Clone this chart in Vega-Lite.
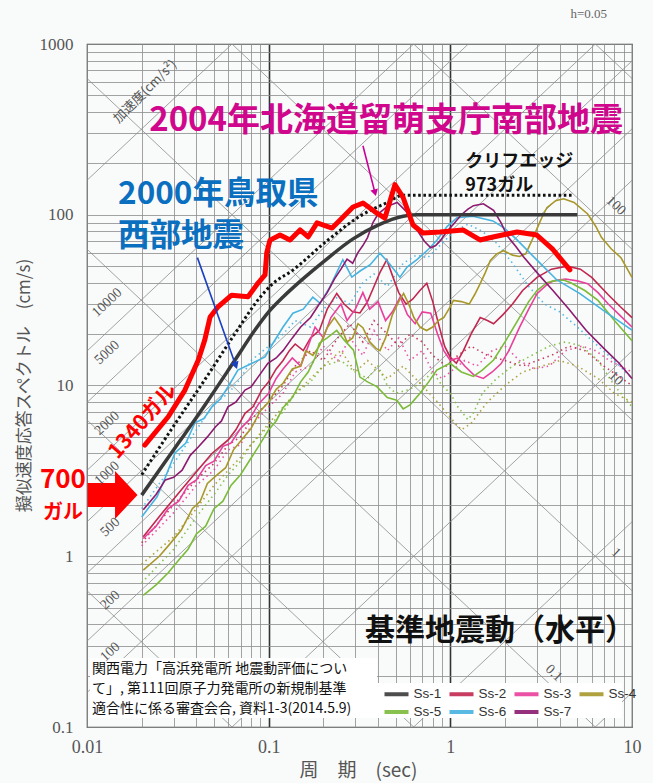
{
"$schema":"https://vega.github.io/schema/vega-lite/v6.json",
"width":545,"height":683,
"autosize":{"type":"none"},
"padding":{"left":87,"top":44,"right":21,"bottom":56},
"background":"#f9fbfb",
"config":{"view":{"stroke":"#444","strokeWidth":1.2},"font":"Noto Sans CJK JP"},
"datasets":{
"diag":[
{"T":0.01,"Sv":0.00015915,"T2":10,"Sv2":0.15915},
{"T":0.01,"Sv":0.0015915,"T2":10,"Sv2":1.5915},
{"T":0.01,"Sv":0.015915,"T2":10,"Sv2":15.915},
{"T":0.01,"Sv":0.15915,"T2":10,"Sv2":159.15},
{"T":0.01,"Sv":0.3183,"T2":10,"Sv2":318.3},
{"T":0.01,"Sv":0.79577,"T2":10,"Sv2":795.77},
{"T":0.01,"Sv":1.5915,"T2":10,"Sv2":1591.5},
{"T":0.01,"Sv":3.1831,"T2":10,"Sv2":3183.1},
{"T":0.01,"Sv":7.9577,"T2":10,"Sv2":7957.7},
{"T":0.01,"Sv":15.915,"T2":10,"Sv2":15915},
{"T":0.01,"Sv":159.15,"T2":10,"Sv2":159155},
{"T":0.01,"Sv":0.62832,"T2":10,"Sv2":0.00062832},
{"T":0.01,"Sv":6.2832,"T2":10,"Sv2":0.0062832},
{"T":0.01,"Sv":62.832,"T2":10,"Sv2":0.062832},
{"T":0.01,"Sv":628.32,"T2":10,"Sv2":0.62832},
{"T":0.01,"Sv":6283.2,"T2":10,"Sv2":6.2832},
{"T":0.01,"Sv":62832,"T2":10,"Sv2":62.832},
{"T":0.01,"Sv":628320,"T2":10,"Sv2":628.32}
],
"ss1":[
{"wave":"Ss-1","T":0.02,"Sv":2.28},{"wave":"Ss-1","T":0.03,"Sv":4.2},{"wave":"Ss-1","T":0.045,"Sv":7.8},{"wave":"Ss-1","T":0.065,"Sv":14},{"wave":"Ss-1","T":0.085,"Sv":21.5},{"wave":"Ss-1","T":0.1,"Sv":27},{"wave":"Ss-1","T":0.12,"Sv":33},{"wave":"Ss-1","T":0.15,"Sv":41},{"wave":"Ss-1","T":0.2,"Sv":53},{"wave":"Ss-1","T":0.29,"Sv":72},{"wave":"Ss-1","T":0.4,"Sv":87},{"wave":"Ss-1","T":0.55,"Sv":98},{"wave":"Ss-1","T":0.65,"Sv":100},{"wave":"Ss-1","T":5.0,"Sv":100}
],
"cliff":[
{"T":0.02,"Sv":3.0},{"T":0.03,"Sv":5.8},{"T":0.045,"Sv":11},{"T":0.065,"Sv":20},{"T":0.09,"Sv":33},{"T":0.104,"Sv":39},{"T":0.136,"Sv":47.4},{"T":0.21,"Sv":70.5},{"T":0.32,"Sv":98.5},{"T":0.45,"Sv":118},{"T":0.55,"Sv":130},{"T":4.8,"Sv":130}
],
"rumoi":[
{"T":0.0208,"Sv":4.48},{"T":0.028,"Sv":6.56},{"T":0.0346,"Sv":9.4},{"T":0.041,"Sv":14.1},{"T":0.0445,"Sv":18.5},{"T":0.0476,"Sv":25.2},{"T":0.0528,"Sv":29},{"T":0.0625,"Sv":33.8},{"T":0.077,"Sv":33.1},{"T":0.0874,"Sv":39.8},{"T":0.0955,"Sv":44.4},{"T":0.0976,"Sv":60},{"T":0.1017,"Sv":71},{"T":0.1155,"Sv":76.1},{"T":0.1311,"Sv":71.2},{"T":0.1488,"Sv":81.5},{"T":0.1649,"Sv":74.1},{"T":0.1846,"Sv":89.6},{"T":0.2234,"Sv":83.6},{"T":0.2473,"Sv":93.1},{"T":0.2913,"Sv":111},{"T":0.3306,"Sv":117},{"T":0.3846,"Sv":104},{"T":0.4364,"Sv":95.7},{"T":0.4954,"Sv":150},{"T":0.5484,"Sv":127},{"T":0.6232,"Sv":87.1},{"T":0.7069,"Sv":78.2},{"T":0.8776,"Sv":79.3},{"T":1.174,"Sv":81.5},{"T":1.457,"Sv":71.2},{"T":1.718,"Sv":74.1},{"T":2.33,"Sv":79.3},{"T":2.99,"Sv":76.1},{"T":3.67,"Sv":62.6},{"T":4.55,"Sv":47.6}
],
"solid":[
{"wave":"Ss-2","T":0.0204,"Sv":1.3},{"wave":"Ss-2","T":0.0258,"Sv":1.78},{"wave":"Ss-2","T":0.0318,"Sv":2.33},{"wave":"Ss-2","T":0.0394,"Sv":3.06},{"wave":"Ss-2","T":0.0487,"Sv":4.0},{"wave":"Ss-2","T":0.0598,"Sv":4.8},{"wave":"Ss-2","T":0.066,"Sv":5.5},{"wave":"Ss-2","T":0.0741,"Sv":6.87},{"wave":"Ss-2","T":0.082,"Sv":7.5},{"wave":"Ss-2","T":0.0916,"Sv":9.4},{"wave":"Ss-2","T":0.1,"Sv":10.5},{"wave":"Ss-2","T":0.11,"Sv":12.5},{"wave":"Ss-2","T":0.12,"Sv":14},{"wave":"Ss-2","T":0.13,"Sv":16},{"wave":"Ss-2","T":0.14,"Sv":17.5},{"wave":"Ss-2","T":0.155,"Sv":16},{"wave":"Ss-2","T":0.17,"Sv":19},{"wave":"Ss-2","T":0.19,"Sv":21},{"wave":"Ss-2","T":0.21,"Sv":28},{"wave":"Ss-2","T":0.237,"Sv":34.6},{"wave":"Ss-2","T":0.26,"Sv":30},{"wave":"Ss-2","T":0.29,"Sv":27},{"wave":"Ss-2","T":0.318,"Sv":26.6},{"wave":"Ss-2","T":0.35,"Sv":31},{"wave":"Ss-2","T":0.38,"Sv":38},{"wave":"Ss-2","T":0.41,"Sv":46},{"wave":"Ss-2","T":0.447,"Sv":54.5},{"wave":"Ss-2","T":0.48,"Sv":44},{"wave":"Ss-2","T":0.52,"Sv":35},{"wave":"Ss-2","T":0.57,"Sv":30},{"wave":"Ss-2","T":0.62,"Sv":32},{"wave":"Ss-2","T":0.68,"Sv":36},{"wave":"Ss-2","T":0.742,"Sv":39.7},{"wave":"Ss-2","T":0.8,"Sv":31},{"wave":"Ss-2","T":0.87,"Sv":22},{"wave":"Ss-2","T":0.93,"Sv":17},{"wave":"Ss-2","T":1.0,"Sv":14.6},{"wave":"Ss-2","T":1.08,"Sv":13.5},{"wave":"Ss-2","T":1.18,"Sv":16},{"wave":"Ss-2","T":1.3,"Sv":20},{"wave":"Ss-2","T":1.46,"Sv":25},{"wave":"Ss-2","T":1.6,"Sv":24},{"wave":"Ss-2","T":1.73,"Sv":23},{"wave":"Ss-2","T":1.95,"Sv":26},{"wave":"Ss-2","T":2.2,"Sv":30},{"wave":"Ss-2","T":2.5,"Sv":36},{"wave":"Ss-2","T":3.0,"Sv":43},{"wave":"Ss-2","T":3.6,"Sv":48},{"wave":"Ss-2","T":4.4,"Sv":50},{"wave":"Ss-2","T":5.2,"Sv":48},{"wave":"Ss-2","T":6.0,"Sv":43},{"wave":"Ss-2","T":7.4,"Sv":34},{"wave":"Ss-2","T":8.6,"Sv":29},{"wave":"Ss-2","T":10,"Sv":25},
{"wave":"Ss-3","T":0.0204,"Sv":1.27},{"wave":"Ss-3","T":0.024,"Sv":1.5},{"wave":"Ss-3","T":0.028,"Sv":1.9},{"wave":"Ss-3","T":0.032,"Sv":2.1},{"wave":"Ss-3","T":0.036,"Sv":2.6},{"wave":"Ss-3","T":0.04,"Sv":2.8},{"wave":"Ss-3","T":0.045,"Sv":3.4},{"wave":"Ss-3","T":0.05,"Sv":3.6},{"wave":"Ss-3","T":0.056,"Sv":4.4},{"wave":"Ss-3","T":0.062,"Sv":4.6},{"wave":"Ss-3","T":0.07,"Sv":5.6},{"wave":"Ss-3","T":0.078,"Sv":6.3},{"wave":"Ss-3","T":0.088,"Sv":7.8},{"wave":"Ss-3","T":0.1,"Sv":9},{"wave":"Ss-3","T":0.11,"Sv":11},{"wave":"Ss-3","T":0.12,"Sv":12.5},{"wave":"Ss-3","T":0.135,"Sv":14.5},{"wave":"Ss-3","T":0.15,"Sv":13},{"wave":"Ss-3","T":0.165,"Sv":17},{"wave":"Ss-3","T":0.18,"Sv":22},{"wave":"Ss-3","T":0.2,"Sv":19},{"wave":"Ss-3","T":0.22,"Sv":25},{"wave":"Ss-3","T":0.25,"Sv":30},{"wave":"Ss-3","T":0.27,"Sv":24},{"wave":"Ss-3","T":0.3,"Sv":28},{"wave":"Ss-3","T":0.33,"Sv":35},{"wave":"Ss-3","T":0.36,"Sv":28},{"wave":"Ss-3","T":0.4,"Sv":31},{"wave":"Ss-3","T":0.44,"Sv":24},{"wave":"Ss-3","T":0.48,"Sv":27},{"wave":"Ss-3","T":0.53,"Sv":33},{"wave":"Ss-3","T":0.58,"Sv":26},{"wave":"Ss-3","T":0.64,"Sv":23},{"wave":"Ss-3","T":0.7,"Sv":27},{"wave":"Ss-3","T":0.78,"Sv":26.5},{"wave":"Ss-3","T":0.85,"Sv":20},{"wave":"Ss-3","T":0.92,"Sv":16},{"wave":"Ss-3","T":1.0,"Sv":14},{"wave":"Ss-3","T":1.1,"Sv":14.5},{"wave":"Ss-3","T":1.2,"Sv":13},{"wave":"Ss-3","T":1.35,"Sv":11.5},{"wave":"Ss-3","T":1.52,"Sv":11},{"wave":"Ss-3","T":1.7,"Sv":12},{"wave":"Ss-3","T":1.9,"Sv":13.4},{"wave":"Ss-3","T":2.1,"Sv":16},{"wave":"Ss-3","T":2.4,"Sv":21.8},{"wave":"Ss-3","T":2.7,"Sv":28},{"wave":"Ss-3","T":3.0,"Sv":34.5},{"wave":"Ss-3","T":3.4,"Sv":39},{"wave":"Ss-3","T":3.7,"Sv":41},{"wave":"Ss-3","T":4.3,"Sv":42},{"wave":"Ss-3","T":5.0,"Sv":41},{"wave":"Ss-3","T":5.7,"Sv":39.5},{"wave":"Ss-3","T":6.5,"Sv":35},{"wave":"Ss-3","T":7.4,"Sv":30},{"wave":"Ss-3","T":8.5,"Sv":26},{"wave":"Ss-3","T":10,"Sv":22},
{"wave":"Ss-4","T":0.0204,"Sv":0.83},{"wave":"Ss-4","T":0.025,"Sv":1.0},{"wave":"Ss-4","T":0.028,"Sv":1.15},{"wave":"Ss-4","T":0.033,"Sv":1.42},{"wave":"Ss-4","T":0.038,"Sv":1.9},{"wave":"Ss-4","T":0.042,"Sv":2.1},{"wave":"Ss-4","T":0.046,"Sv":2.67},{"wave":"Ss-4","T":0.052,"Sv":3.0},{"wave":"Ss-4","T":0.058,"Sv":3.3},{"wave":"Ss-4","T":0.064,"Sv":4.2},{"wave":"Ss-4","T":0.072,"Sv":4.9},{"wave":"Ss-4","T":0.08,"Sv":5.6},{"wave":"Ss-4","T":0.09,"Sv":7.1},{"wave":"Ss-4","T":0.1,"Sv":8},{"wave":"Ss-4","T":0.11,"Sv":9.5},{"wave":"Ss-4","T":0.12,"Sv":10.3},{"wave":"Ss-4","T":0.135,"Sv":12.5},{"wave":"Ss-4","T":0.15,"Sv":13},{"wave":"Ss-4","T":0.16,"Sv":16},{"wave":"Ss-4","T":0.175,"Sv":15},{"wave":"Ss-4","T":0.19,"Sv":17},{"wave":"Ss-4","T":0.21,"Sv":21.8},{"wave":"Ss-4","T":0.23,"Sv":25},{"wave":"Ss-4","T":0.25,"Sv":22},{"wave":"Ss-4","T":0.27,"Sv":18},{"wave":"Ss-4","T":0.29,"Sv":19},{"wave":"Ss-4","T":0.31,"Sv":23},{"wave":"Ss-4","T":0.33,"Sv":21.8},{"wave":"Ss-4","T":0.36,"Sv":18},{"wave":"Ss-4","T":0.39,"Sv":16.5},{"wave":"Ss-4","T":0.41,"Sv":16},{"wave":"Ss-4","T":0.44,"Sv":19},{"wave":"Ss-4","T":0.48,"Sv":26},{"wave":"Ss-4","T":0.52,"Sv":31},{"wave":"Ss-4","T":0.553,"Sv":34.6},{"wave":"Ss-4","T":0.59,"Sv":30},{"wave":"Ss-4","T":0.63,"Sv":25},{"wave":"Ss-4","T":0.68,"Sv":22},{"wave":"Ss-4","T":0.74,"Sv":21},{"wave":"Ss-4","T":0.8,"Sv":22},{"wave":"Ss-4","T":0.86,"Sv":24},{"wave":"Ss-4","T":0.92,"Sv":25},{"wave":"Ss-4","T":1.0,"Sv":29},{"wave":"Ss-4","T":1.04,"Sv":31.5},{"wave":"Ss-4","T":1.15,"Sv":31},{"wave":"Ss-4","T":1.27,"Sv":30},{"wave":"Ss-4","T":1.36,"Sv":34},{"wave":"Ss-4","T":1.46,"Sv":39.5},{"wave":"Ss-4","T":1.56,"Sv":46},{"wave":"Ss-4","T":1.66,"Sv":54},{"wave":"Ss-4","T":1.8,"Sv":59},{"wave":"Ss-4","T":1.96,"Sv":61.6},{"wave":"Ss-4","T":2.2,"Sv":58},{"wave":"Ss-4","T":2.4,"Sv":57},{"wave":"Ss-4","T":2.6,"Sv":59},{"wave":"Ss-4","T":2.8,"Sv":70},{"wave":"Ss-4","T":3.0,"Sv":83},{"wave":"Ss-4","T":3.2,"Sv":97},{"wave":"Ss-4","T":3.4,"Sv":110},{"wave":"Ss-4","T":3.8,"Sv":121},{"wave":"Ss-4","T":4.2,"Sv":124},{"wave":"Ss-4","T":4.8,"Sv":118},{"wave":"Ss-4","T":5.7,"Sv":101},{"wave":"Ss-4","T":6.3,"Sv":86},{"wave":"Ss-4","T":6.8,"Sv":73.5},{"wave":"Ss-4","T":7.7,"Sv":63},{"wave":"Ss-4","T":8.7,"Sv":56},{"wave":"Ss-4","T":10,"Sv":43},
{"wave":"Ss-5","T":0.0204,"Sv":0.59},{"wave":"Ss-5","T":0.024,"Sv":0.68},{"wave":"Ss-5","T":0.028,"Sv":0.8},{"wave":"Ss-5","T":0.032,"Sv":0.95},{"wave":"Ss-5","T":0.036,"Sv":1.1},{"wave":"Ss-5","T":0.04,"Sv":1.35},{"wave":"Ss-5","T":0.045,"Sv":1.5},{"wave":"Ss-5","T":0.05,"Sv":1.9},{"wave":"Ss-5","T":0.056,"Sv":2.1},{"wave":"Ss-5","T":0.062,"Sv":2.6},{"wave":"Ss-5","T":0.07,"Sv":3.0},{"wave":"Ss-5","T":0.078,"Sv":3.6},{"wave":"Ss-5","T":0.088,"Sv":4.4},{"wave":"Ss-5","T":0.1,"Sv":5.5},{"wave":"Ss-5","T":0.11,"Sv":6.2},{"wave":"Ss-5","T":0.12,"Sv":7.4},{"wave":"Ss-5","T":0.135,"Sv":8.5},{"wave":"Ss-5","T":0.15,"Sv":10.5},{"wave":"Ss-5","T":0.165,"Sv":12},{"wave":"Ss-5","T":0.18,"Sv":14.5},{"wave":"Ss-5","T":0.19,"Sv":17.7},{"wave":"Ss-5","T":0.21,"Sv":19},{"wave":"Ss-5","T":0.237,"Sv":21},{"wave":"Ss-5","T":0.26,"Sv":18.5},{"wave":"Ss-5","T":0.293,"Sv":16.1},{"wave":"Ss-5","T":0.318,"Sv":11.2},{"wave":"Ss-5","T":0.35,"Sv":10.5},{"wave":"Ss-5","T":0.394,"Sv":9.85},{"wave":"Ss-5","T":0.45,"Sv":8.5},{"wave":"Ss-5","T":0.507,"Sv":8.2},{"wave":"Ss-5","T":0.55,"Sv":7.3},{"wave":"Ss-5","T":0.6,"Sv":7.7},{"wave":"Ss-5","T":0.681,"Sv":9},{"wave":"Ss-5","T":0.76,"Sv":10.5},{"wave":"Ss-5","T":0.842,"Sv":12.3},{"wave":"Ss-5","T":0.996,"Sv":13.5},{"wave":"Ss-5","T":1.15,"Sv":12},{"wave":"Ss-5","T":1.34,"Sv":11.3},{"wave":"Ss-5","T":1.5,"Sv":12.3},{"wave":"Ss-5","T":1.73,"Sv":14.1},{"wave":"Ss-5","T":2.0,"Sv":18},{"wave":"Ss-5","T":2.4,"Sv":25},{"wave":"Ss-5","T":2.7,"Sv":31},{"wave":"Ss-5","T":3.0,"Sv":36},{"wave":"Ss-5","T":3.4,"Sv":40},{"wave":"Ss-5","T":3.7,"Sv":41},{"wave":"Ss-5","T":4.2,"Sv":41.5},{"wave":"Ss-5","T":4.6,"Sv":40},{"wave":"Ss-5","T":5.5,"Sv":36},{"wave":"Ss-5","T":6.5,"Sv":31.5},{"wave":"Ss-5","T":8.0,"Sv":24},{"wave":"Ss-5","T":10,"Sv":18.3},
{"wave":"Ss-6","T":0.02,"Sv":1.7},{"wave":"Ss-6","T":0.0243,"Sv":2.23},{"wave":"Ss-6","T":0.027,"Sv":2.9},{"wave":"Ss-6","T":0.0305,"Sv":4.03},{"wave":"Ss-6","T":0.035,"Sv":4.6},{"wave":"Ss-6","T":0.0393,"Sv":6.05},{"wave":"Ss-6","T":0.044,"Sv":6.4},{"wave":"Ss-6","T":0.0487,"Sv":7.5},{"wave":"Ss-6","T":0.054,"Sv":8.3},{"wave":"Ss-6","T":0.0597,"Sv":9.8},{"wave":"Ss-6","T":0.0677,"Sv":12.3},{"wave":"Ss-6","T":0.081,"Sv":13.5},{"wave":"Ss-6","T":0.0955,"Sv":14.7},{"wave":"Ss-6","T":0.105,"Sv":17.5},{"wave":"Ss-6","T":0.12,"Sv":22},{"wave":"Ss-6","T":0.136,"Sv":26.5},{"wave":"Ss-6","T":0.155,"Sv":28},{"wave":"Ss-6","T":0.175,"Sv":32.9},{"wave":"Ss-6","T":0.192,"Sv":30.3},{"wave":"Ss-6","T":0.217,"Sv":37.7},{"wave":"Ss-6","T":0.235,"Sv":45},{"wave":"Ss-6","T":0.256,"Sv":54.5},{"wave":"Ss-6","T":0.287,"Sv":43.1},{"wave":"Ss-6","T":0.32,"Sv":47},{"wave":"Ss-6","T":0.361,"Sv":50.8},{"wave":"Ss-6","T":0.41,"Sv":59.5},{"wave":"Ss-6","T":0.46,"Sv":52},{"wave":"Ss-6","T":0.528,"Sv":43.1},{"wave":"Ss-6","T":0.578,"Sv":49.4},{"wave":"Ss-6","T":0.66,"Sv":55},{"wave":"Ss-6","T":0.755,"Sv":62.6},{"wave":"Ss-6","T":0.845,"Sv":71.2},{"wave":"Ss-6","T":0.959,"Sv":85.2},{"wave":"Ss-6","T":1.088,"Sv":96},{"wave":"Ss-6","T":1.333,"Sv":98},{"wave":"Ss-6","T":1.716,"Sv":92},{"wave":"Ss-6","T":2.0,"Sv":83},{"wave":"Ss-6","T":2.33,"Sv":71.2},{"wave":"Ss-6","T":2.99,"Sv":54.4},{"wave":"Ss-6","T":3.86,"Sv":41.5},{"wave":"Ss-6","T":5.17,"Sv":34.5},{"wave":"Ss-6","T":7.27,"Sv":26.6},{"wave":"Ss-6","T":10,"Sv":21.1},
{"wave":"Ss-7","T":0.0204,"Sv":1.87},{"wave":"Ss-7","T":0.024,"Sv":2.3},{"wave":"Ss-7","T":0.027,"Sv":2.8},{"wave":"Ss-7","T":0.03,"Sv":2.9},{"wave":"Ss-7","T":0.0334,"Sv":3.19},{"wave":"Ss-7","T":0.037,"Sv":3.9},{"wave":"Ss-7","T":0.0411,"Sv":4.38},{"wave":"Ss-7","T":0.046,"Sv":5.0},{"wave":"Ss-7","T":0.051,"Sv":5.74},{"wave":"Ss-7","T":0.055,"Sv":6.2},{"wave":"Ss-7","T":0.0597,"Sv":7.5},{"wave":"Ss-7","T":0.066,"Sv":8},{"wave":"Ss-7","T":0.0741,"Sv":9.4},{"wave":"Ss-7","T":0.08,"Sv":9.8},{"wave":"Ss-7","T":0.0874,"Sv":11.2},{"wave":"Ss-7","T":0.099,"Sv":13.5},{"wave":"Ss-7","T":0.11,"Sv":14.5},{"wave":"Ss-7","T":0.12,"Sv":16},{"wave":"Ss-7","T":0.135,"Sv":19},{"wave":"Ss-7","T":0.15,"Sv":22},{"wave":"Ss-7","T":0.17,"Sv":25},{"wave":"Ss-7","T":0.19,"Sv":30},{"wave":"Ss-7","T":0.21,"Sv":35},{"wave":"Ss-7","T":0.23,"Sv":42},{"wave":"Ss-7","T":0.25,"Sv":48},{"wave":"Ss-7","T":0.27,"Sv":55},{"wave":"Ss-7","T":0.29,"Sv":52},{"wave":"Ss-7","T":0.31,"Sv":60},{"wave":"Ss-7","T":0.33,"Sv":66},{"wave":"Ss-7","T":0.35,"Sv":73.5},{"wave":"Ss-7","T":0.375,"Sv":90},{"wave":"Ss-7","T":0.4,"Sv":101},{"wave":"Ss-7","T":0.45,"Sv":112},{"wave":"Ss-7","T":0.51,"Sv":118},{"wave":"Ss-7","T":0.57,"Sv":105},{"wave":"Ss-7","T":0.62,"Sv":92},{"wave":"Ss-7","T":0.66,"Sv":80.6},{"wave":"Ss-7","T":0.72,"Sv":70},{"wave":"Ss-7","T":0.78,"Sv":64},{"wave":"Ss-7","T":0.83,"Sv":66},{"wave":"Ss-7","T":0.88,"Sv":70.5},{"wave":"Ss-7","T":0.96,"Sv":80},{"wave":"Ss-7","T":1.04,"Sv":88},{"wave":"Ss-7","T":1.15,"Sv":100},{"wave":"Ss-7","T":1.25,"Sv":108},{"wave":"Ss-7","T":1.34,"Sv":113},{"wave":"Ss-7","T":1.52,"Sv":116},{"wave":"Ss-7","T":1.73,"Sv":106},{"wave":"Ss-7","T":1.9,"Sv":90},{"wave":"Ss-7","T":2.06,"Sv":75},{"wave":"Ss-7","T":2.3,"Sv":65},{"wave":"Ss-7","T":2.52,"Sv":57},{"wave":"Ss-7","T":3.1,"Sv":44},{"wave":"Ss-7","T":3.67,"Sv":36},{"wave":"Ss-7","T":4.5,"Sv":28},{"wave":"Ss-7","T":5.6,"Sv":21},{"wave":"Ss-7","T":7.0,"Sv":16.5},{"wave":"Ss-7","T":8.5,"Sv":13.5},{"wave":"Ss-7","T":10,"Sv":11}
],
"dots":[
{"wave":"Ss-6","T":0.02,"Sv":1.9},{"wave":"Ss-6","T":0.03,"Sv":3.5},{"wave":"Ss-6","T":0.04,"Sv":5.5},{"wave":"Ss-6","T":0.05,"Sv":7.8},{"wave":"Ss-6","T":0.06,"Sv":9},{"wave":"Ss-6","T":0.07,"Sv":11},{"wave":"Ss-6","T":0.08,"Sv":14},{"wave":"Ss-6","T":0.1,"Sv":17},{"wave":"Ss-6","T":0.12,"Sv":20},{"wave":"Ss-6","T":0.14,"Sv":24},{"wave":"Ss-6","T":0.17,"Sv":22},{"wave":"Ss-6","T":0.2,"Sv":28},{"wave":"Ss-6","T":0.24,"Sv":33},{"wave":"Ss-6","T":0.28,"Sv":30},{"wave":"Ss-6","T":0.33,"Sv":40},{"wave":"Ss-6","T":0.38,"Sv":45},{"wave":"Ss-6","T":0.45,"Sv":38},{"wave":"Ss-6","T":0.55,"Sv":52},{"wave":"Ss-6","T":0.65,"Sv":58},{"wave":"Ss-6","T":0.75,"Sv":56},{"wave":"Ss-6","T":0.9,"Sv":68},{"wave":"Ss-6","T":1.05,"Sv":80},{"wave":"Ss-6","T":1.25,"Sv":88},{"wave":"Ss-6","T":1.5,"Sv":80},{"wave":"Ss-6","T":1.8,"Sv":68},{"wave":"Ss-6","T":2.2,"Sv":52},{"wave":"Ss-6","T":2.7,"Sv":38},{"wave":"Ss-6","T":3.3,"Sv":30},{"wave":"Ss-6","T":4,"Sv":27},{"wave":"Ss-6","T":5,"Sv":22},{"wave":"Ss-6","T":6.5,"Sv":17},{"wave":"Ss-6","T":8,"Sv":14},{"wave":"Ss-6","T":10,"Sv":11},
{"wave":"Ss-3","T":0.02,"Sv":1.15},{"wave":"Ss-3","T":0.03,"Sv":1.8},{"wave":"Ss-3","T":0.04,"Sv":2.6},{"wave":"Ss-3","T":0.05,"Sv":3.2},{"wave":"Ss-3","T":0.06,"Sv":4.2},{"wave":"Ss-3","T":0.07,"Sv":4.5},{"wave":"Ss-3","T":0.08,"Sv":5.8},{"wave":"Ss-3","T":0.1,"Sv":7.5},{"wave":"Ss-3","T":0.12,"Sv":9},{"wave":"Ss-3","T":0.14,"Sv":12},{"wave":"Ss-3","T":0.17,"Sv":13},{"wave":"Ss-3","T":0.2,"Sv":17},{"wave":"Ss-3","T":0.24,"Sv":14},{"wave":"Ss-3","T":0.28,"Sv":19},{"wave":"Ss-3","T":0.33,"Sv":15},{"wave":"Ss-3","T":0.38,"Sv":21},{"wave":"Ss-3","T":0.45,"Sv":16},{"wave":"Ss-3","T":0.52,"Sv":19},{"wave":"Ss-3","T":0.6,"Sv":14},{"wave":"Ss-3","T":0.7,"Sv":16},{"wave":"Ss-3","T":0.8,"Sv":12},{"wave":"Ss-3","T":0.9,"Sv":11},{"wave":"Ss-3","T":1.0,"Sv":12},{"wave":"Ss-3","T":1.2,"Sv":14},{"wave":"Ss-3","T":1.4,"Sv":13},{"wave":"Ss-3","T":1.7,"Sv":16},{"wave":"Ss-3","T":2.0,"Sv":17},{"wave":"Ss-3","T":2.4,"Sv":14},{"wave":"Ss-3","T":2.9,"Sv":12.5},{"wave":"Ss-3","T":3.5,"Sv":13},{"wave":"Ss-3","T":4.3,"Sv":16},{"wave":"Ss-3","T":5.3,"Sv":17},{"wave":"Ss-3","T":6.3,"Sv":16},{"wave":"Ss-3","T":7.5,"Sv":14},{"wave":"Ss-3","T":10,"Sv":12},
{"wave":"Ss-5","T":0.02,"Sv":0.7},{"wave":"Ss-5","T":0.03,"Sv":1.1},{"wave":"Ss-5","T":0.04,"Sv":1.7},{"wave":"Ss-5","T":0.05,"Sv":2.3},{"wave":"Ss-5","T":0.06,"Sv":3.0},{"wave":"Ss-5","T":0.07,"Sv":3.6},{"wave":"Ss-5","T":0.08,"Sv":4.5},{"wave":"Ss-5","T":0.1,"Sv":5.8},{"wave":"Ss-5","T":0.12,"Sv":7},{"wave":"Ss-5","T":0.14,"Sv":9},{"wave":"Ss-5","T":0.17,"Sv":10.5},{"wave":"Ss-5","T":0.2,"Sv":13},{"wave":"Ss-5","T":0.25,"Sv":14},{"wave":"Ss-5","T":0.3,"Sv":12},{"wave":"Ss-5","T":0.35,"Sv":11},{"wave":"Ss-5","T":0.4,"Sv":13},{"wave":"Ss-5","T":0.45,"Sv":10},{"wave":"Ss-5","T":0.5,"Sv":9},{"wave":"Ss-5","T":0.6,"Sv":9.5},{"wave":"Ss-5","T":0.7,"Sv":10.5},{"wave":"Ss-5","T":0.8,"Sv":12},{"wave":"Ss-5","T":0.9,"Sv":10},{"wave":"Ss-5","T":1.0,"Sv":9},{"wave":"Ss-5","T":1.1,"Sv":7.5},{"wave":"Ss-5","T":1.25,"Sv":6.3},{"wave":"Ss-5","T":1.35,"Sv":7},{"wave":"Ss-5","T":1.5,"Sv":9},{"wave":"Ss-5","T":1.8,"Sv":11},{"wave":"Ss-5","T":2.2,"Sv":13},{"wave":"Ss-5","T":2.8,"Sv":15},{"wave":"Ss-5","T":3.5,"Sv":17},{"wave":"Ss-5","T":4.3,"Sv":18},{"wave":"Ss-5","T":5.3,"Sv":17},{"wave":"Ss-5","T":6.5,"Sv":14},{"wave":"Ss-5","T":8,"Sv":10},{"wave":"Ss-5","T":10,"Sv":7.5},
{"wave":"Ss-2","T":0.02,"Sv":1.2},{"wave":"Ss-2","T":0.03,"Sv":2},{"wave":"Ss-2","T":0.04,"Sv":2.8},{"wave":"Ss-2","T":0.05,"Sv":3.5},{"wave":"Ss-2","T":0.06,"Sv":4.5},{"wave":"Ss-2","T":0.07,"Sv":5},{"wave":"Ss-2","T":0.08,"Sv":6.3},{"wave":"Ss-2","T":0.1,"Sv":8},{"wave":"Ss-2","T":0.12,"Sv":10},{"wave":"Ss-2","T":0.14,"Sv":13},{"wave":"Ss-2","T":0.17,"Sv":16},{"wave":"Ss-2","T":0.2,"Sv":14},{"wave":"Ss-2","T":0.24,"Sv":19},{"wave":"Ss-2","T":0.28,"Sv":23},{"wave":"Ss-2","T":0.33,"Sv":18},{"wave":"Ss-2","T":0.38,"Sv":24},{"wave":"Ss-2","T":0.45,"Sv":20},{"wave":"Ss-2","T":0.52,"Sv":17},{"wave":"Ss-2","T":0.6,"Sv":20},{"wave":"Ss-2","T":0.7,"Sv":18},{"wave":"Ss-2","T":0.8,"Sv":15},{"wave":"Ss-2","T":0.95,"Sv":13},{"wave":"Ss-2","T":1.1,"Sv":15},{"wave":"Ss-2","T":1.3,"Sv":17},{"wave":"Ss-2","T":1.6,"Sv":15},{"wave":"Ss-2","T":2.0,"Sv":14},{"wave":"Ss-2","T":2.5,"Sv":13},{"wave":"Ss-2","T":3.0,"Sv":14},{"wave":"Ss-2","T":3.6,"Sv":15},{"wave":"Ss-2","T":4.5,"Sv":17},{"wave":"Ss-2","T":5.5,"Sv":16},{"wave":"Ss-2","T":7,"Sv":13},{"wave":"Ss-2","T":10,"Sv":10},
{"wave":"Ss-4","T":0.02,"Sv":0.9},{"wave":"Ss-4","T":0.03,"Sv":1.3},{"wave":"Ss-4","T":0.04,"Sv":1.9},{"wave":"Ss-4","T":0.05,"Sv":2.6},{"wave":"Ss-4","T":0.07,"Sv":3.8},{"wave":"Ss-4","T":0.1,"Sv":6},{"wave":"Ss-4","T":0.14,"Sv":9},{"wave":"Ss-4","T":0.2,"Sv":13},{"wave":"Ss-4","T":0.25,"Sv":16},{"wave":"Ss-4","T":0.3,"Sv":12},{"wave":"Ss-4","T":0.35,"Sv":14},{"wave":"Ss-4","T":0.45,"Sv":11},{"wave":"Ss-4","T":0.55,"Sv":13},{"wave":"Ss-4","T":0.7,"Sv":10},{"wave":"Ss-4","T":0.85,"Sv":8},{"wave":"Ss-4","T":1.0,"Sv":6.5},{"wave":"Ss-4","T":1.15,"Sv":5.5},{"wave":"Ss-4","T":1.3,"Sv":6},{"wave":"Ss-4","T":1.6,"Sv":8},{"wave":"Ss-4","T":2.0,"Sv":10},{"wave":"Ss-4","T":2.5,"Sv":12},{"wave":"Ss-4","T":3.2,"Sv":13},{"wave":"Ss-4","T":4,"Sv":14},{"wave":"Ss-4","T":5,"Sv":13},{"wave":"Ss-4","T":6.5,"Sv":11},{"wave":"Ss-4","T":8,"Sv":9},{"wave":"Ss-4","T":10,"Sv":8}
]
},
"encoding":{
 "x":{"field":"T","type":"quantitative","scale":{"type":"log","domain":[0.01,10],"nice":false},
  "axis":{"values":[0.01,0.02,0.03,0.04,0.05,0.06,0.07,0.08,0.09,0.1,0.2,0.3,0.4,0.5,0.6,0.7,0.8,0.9,1,2,3,4,5,6,7,8,9,10],
   "grid":true,"gridColor":{"condition":{"test":"datum.value===0.1||datum.value===1","value":"#333333"},"value":"#8c8c8c"},
   "gridWidth":{"condition":{"test":"datum.value===0.1||datum.value===1","value":1.6},"value":0.8},
   "ticks":false,"domain":false,"labelOverlap":false,"labelFlush":false,"labelBound":false,
   "labelExpr":"datum.value===0.01?'0.01':datum.value===0.1?'0.1':datum.value===1?'1':datum.value===10?'10':''",
   "labelFont":"Liberation Serif","labelFontSize":18,"labelColor":"#555","labelPadding":11,
   "title":"周　期　(sec)","titleFont":"Noto Sans CJK JP","titleFontSize":19,"titleFontWeight":"normal","titleColor":"#555",
   "titleX":271,"titleY":43,"titleBaseline":"middle","titleAlign":"center"}},
 "y":{"field":"Sv","type":"quantitative","scale":{"type":"log","domain":[0.1,1000],"nice":false},
  "axis":{"values":[0.1,0.2,0.3,0.4,0.5,0.6,0.7,0.8,0.9,1,2,3,4,5,6,7,8,9,10,20,30,40,50,60,70,80,90,100,200,300,400,500,600,700,800,900,1000],
   "grid":true,"gridColor":"#8c8c8c","gridWidth":0.8,
   "ticks":false,"domain":false,"labelOverlap":false,"labelFlush":false,"labelBound":false,
   "labelExpr":"datum.value===0.1?'0.1':datum.value===1?'1':datum.value===10?'10':datum.value===100?'100':datum.value===1000?'1000':''",
   "labelFont":"Liberation Serif","labelFontSize":17,"labelColor":"#555","labelPadding":14,
   "title":"擬似速度応答スペクトル　(cm/s)","titleFont":"Noto Sans CJK JP","titleFontSize":17,"titleFontWeight":"normal","titleColor":"#555",
   "titleX":-63,"titleY":341,"titleBaseline":"middle","titleAlign":"center","titleAngle":270}}
},
"layer":[
{"data":{"name":"diag"},
 "mark":{"type":"rule","color":"#8c8c8c","strokeWidth":0.8,"clip":true},
 "encoding":{"x2":{"field":"T2"},"y2":{"field":"Sv2"}}},
{"data":{"values":[{"T":0.01039,"Sv":0.2535,"T2":0.3949,"Sv2":0.1129},{"T":0.385,"Sv":0.181,"T2":8.812,"Sv2":0.1129}]},
 "mark":{"type":"rect","fill":"#ffffff"},
 "encoding":{"x2":{"field":"T2"},"y2":{"field":"Sv2"}}},
{"data":{"name":"dots"},
 "mark":{"type":"line","strokeWidth":1.6,"strokeDash":[1.5,3.5],"opacity":0.9},
 "encoding":{"color":{"field":"wave","type":"nominal"},"order":{"field":"T","type":"quantitative"}}},
{"data":{"name":"solid"},
 "mark":{"type":"line","strokeWidth":1.6},
 "encoding":{
  "color":{"field":"wave","type":"nominal",
   "scale":{"domain":["Ss-1","Ss-2","Ss-3","Ss-4","Ss-5","Ss-6","Ss-7"],"range":["#3a3a3a","#c1274f","#e9409c","#a8982a","#7cbb3a","#46b3e0","#8c1a6e"]},
   "legend":{"orient":"none","legendX":304.5,"legendY":640.5,"columns":4,"direction":"horizontal","padding":0,"title":null,
    "symbolType":"M-2.2,0L1,0","symbolSize":225,"symbolStrokeWidth":4,"symbolDash":[1,0],"labelFont":"Liberation Sans","labelFontSize":13.5,"labelColor":"#333",
    "rowPadding":-2,"columnPadding":0,"labelOffset":3}},
  "order":{"field":"T","type":"quantitative"}}},
{"data":{"name":"ss1"},
 "mark":{"type":"line","strokeWidth":3.5,"interpolate":"monotone"},
 "encoding":{"color":{"field":"wave","type":"nominal"}}},
{"data":{"name":"cliff"},
 "mark":{"type":"line","color":"#111111","strokeWidth":3,"strokeDash":[2.6,2.6],"interpolate":"monotone"}},
{"data":{"name":"rumoi"},
 "mark":{"type":"line","color":"#ff0000","strokeWidth":5,"strokeJoin":"round","strokeCap":"round"}},
{"data":{"values":[{"T":0.04052,"Sv":56.1,"T2":0.0659,"Sv2":13.08}]},
 "mark":{"type":"rule","color":"#1a3fbf","strokeWidth":1.6},
 "encoding":{"x2":{"field":"T2"},"y2":{"field":"Sv2"}}},
{"data":{"values":[{"T":0.3303,"Sv":253.6,"T2":0.385,"Sv2":134.4}]},
 "mark":{"type":"rule","color":"#cc0099","strokeWidth":1.6},
 "encoding":{"x2":{"field":"T2"},"y2":{"field":"Sv2"}}},
{"data":{"values":[{"T":0.0659,"Sv":13.08}]},
 "mark":{"type":"point","shape":"triangle-down","filled":true,"color":"#1a3fbf","size":70,"angle":340,"opacity":1}},
{"data":{"values":[{"T":0.385,"Sv":134.4}]},
 "mark":{"type":"point","shape":"triangle-down","filled":true,"color":"#cc0099","size":60,"angle":345,"opacity":1}},
{"data":{"values":[{"T":0.01382,"Sv":2.284}]},
 "mark":{"type":"point","shape":"M-1,-0.48L0.1,-0.48L0.1,-0.96L1,0L0.1,0.96L0.1,0.48L-1,0.48Z","filled":true,"color":"#ff0000","size":2500,"opacity":1,"strokeWidth":0}},
{"data":{"values":[{"T":0.01290,"Sv":30.6,"label":"10000"},{"T":0.01290,"Sv":15.6,"label":"5000"},{"T":0.01290,"Sv":6.0,"label":"2000"},{"T":0.01290,"Sv":3.06,"label":"1000"},{"T":0.0134,"Sv":1.48,"label":"500"},{"T":0.0134,"Sv":0.553,"label":"200"},{"T":0.0134,"Sv":0.275,"label":"100"}]},
 "mark":{"type":"text","font":"Liberation Serif","fontSize":14,"color":"#555","angle":-43,"align":"center","baseline":"middle"},
 "encoding":{"text":{"field":"label"}}},
{"data":{"values":[{"T":8.16,"Sv":113,"label":"100"},{"T":8.16,"Sv":11.0,"label":"10"},{"T":8.16,"Sv":1.05,"label":"1"},{"T":3.71,"Sv":0.207,"label":"0.1"}]},
 "mark":{"type":"text","font":"Liberation Serif","fontSize":14,"color":"#555","angle":43,"align":"center","baseline":"middle"},
 "encoding":{"text":{"field":"label"}}},
{"data":{"values":[{"T":0.0209,"Sv":526,"label":"加速度(cm/s²)"}]},
 "mark":{"type":"text","fontSize":13,"color":"#555","angle":-45,"align":"center","baseline":"middle"},
 "encoding":{"text":{"field":"label"}}},
{"data":{"values":[{"T":7.29,"Sv":1498,"label":"h=0.05"}]},
 "mark":{"type":"text","font":"Liberation Serif","fontSize":13,"color":"#666","align":"right","baseline":"middle"},
 "encoding":{"text":{"field":"label"}}},
{"data":{"values":[{"T":0.443,"Sv":354.6,"label":"2004年北海道留萌支庁南部地震"}]},
 "mark":{"type":"text","fontSize":33,"fontWeight":"bold","color":"#d0078c","align":"center","baseline":"middle"},
 "encoding":{"text":{"field":"label"}}},
{"data":{"values":[{"T":0.01483,"Sv":130.5,"label":"2000年鳥取県"},{"T":0.01483,"Sv":74.2,"label":"西部地震"}]},
 "mark":{"type":"text","fontSize":31.5,"fontWeight":"bold","color":"#0b6fc0","align":"left","baseline":"middle"},
 "encoding":{"text":{"field":"label"}}},
{"data":{"values":[{"T":1.21,"Sv":204,"label":"クリフエッジ"},{"T":1.21,"Sv":147.8,"label":"973ガル"}]},
 "mark":{"type":"text","fontSize":18,"fontWeight":"bold","color":"#111","align":"left","baseline":"middle"},
 "encoding":{"text":{"field":"label"}}},
{"data":{"values":[{"T":0.0204,"Sv":6.16,"label":"1340ガル"}]},
 "mark":{"type":"text","fontSize":21,"fontWeight":"bold","color":"#ff0000","angle":-49,"align":"center","baseline":"middle"},
 "encoding":{"text":{"field":"label"}}},
{"data":{"values":[{"T":0.00737,"Sv":2.78,"label":"700"}]},
 "mark":{"type":"text","fontSize":26,"fontWeight":"bold","color":"#ff0000","align":"center","baseline":"middle"},
 "encoding":{"text":{"field":"label"}}},
{"data":{"values":[{"T":0.00737,"Sv":1.8,"label":"ガル"}]},
 "mark":{"type":"text","fontSize":20,"fontWeight":"bold","color":"#ff0000","align":"center","baseline":"middle"},
 "encoding":{"text":{"field":"label"}}},
{"data":{"values":[{"T":0.339,"Sv":0.364,"label":"基準地震動（水平）"}]},
 "mark":{"type":"text","fontSize":30,"fontWeight":"bold","color":"#111","align":"left","baseline":"middle"},
 "encoding":{"text":{"field":"label"}}},
{"data":{"values":[{"T":0.01066,"Sv":0.218,"label":"関西電力「高浜発電所 地震動評価につい"},{"T":0.01066,"Sv":0.1668,"label":"て」, 第111回原子力発電所の新規制基準"},{"T":0.01066,"Sv":0.1277,"label":"適合性に係る審査会合, 資料1-3(2014.5.9)"}]},
 "mark":{"type":"text","fontSize":14,"color":"#111","align":"left","baseline":"middle"},
 "encoding":{"text":{"field":"label"}}}
]
}
